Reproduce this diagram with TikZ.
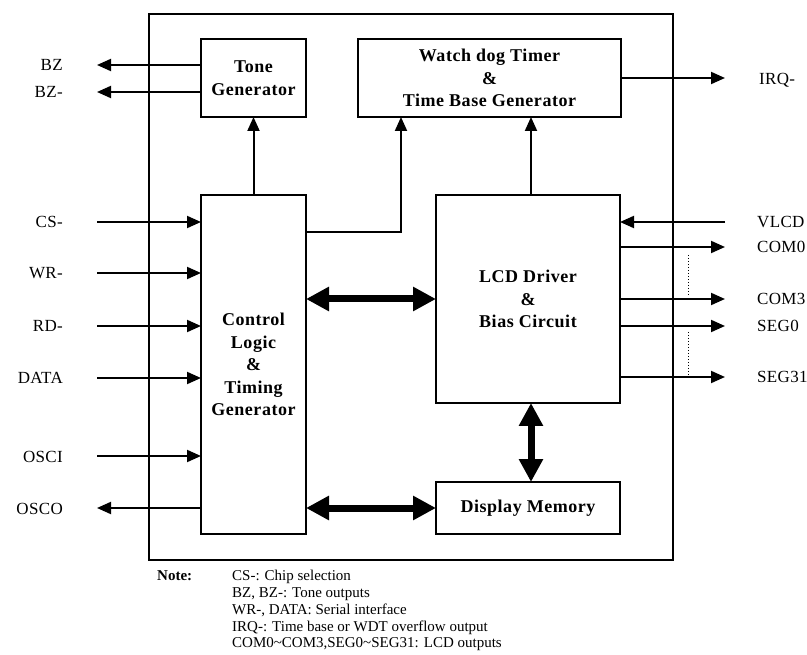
\documentclass[tikz,border=0pt]{standalone}
\usepackage{fontspec}
\setmainfont{Liberation Serif}
\usetikzlibrary{arrows.meta}
\begin{document}
\begin{tikzpicture}[x=1pt,y=-1pt,
 box/.style={draw, line width=2pt, inner sep=0pt, outer sep=0pt, align=center,
   font=\fontsize{18}{22.5}\selectfont\bfseries\addfontfeatures{LetterSpace=3}},
 sig/.style={line width=2pt, -{Triangle[length=14pt,width=12pt]}},
 bus/.style={line width=7pt, {Triangle[length=23pt,width=23pt]}-{Triangle[length=23pt,width=23pt]}},
 lbl/.style={font=\fontsize{17}{20}\selectfont\addfontfeatures{LetterSpace=2}, inner sep=0pt},
 note/.style={font=\fontsize{15}{16.8}\selectfont, inner sep=0pt, align=left},
]
\useasboundingbox (0,0) rectangle (807,655);

% outer chip
\node[draw, line width=2pt, minimum width=524pt, minimum height=546pt, inner sep=0pt, anchor=north west] (chip) at (148,13) {};

% blocks
\node[box, minimum width=105pt, minimum height=78pt] (tone) at (253.5,78) {Tone\\Generator};
\node[box, minimum width=263pt, minimum height=78pt] (wdt) at (489.5,78) {Watch dog Timer\\\&\\Time Base Generator};
\node[box, minimum width=105pt, minimum height=339pt] (ctrl) at (253.5,364.5) {Control\\Logic\\\&\\Timing\\Generator};
\node[box, minimum width=184pt, minimum height=208pt] (lcd) at (528,299) {LCD Driver\\\&\\Bias Circuit};
\node[box, minimum width=184pt, minimum height=52pt] (mem) at (528,508) {Display Memory};

% coordinates for free ends
\coordinate (bz) at (97,65);
\coordinate (bzn) at (97,92);
\coordinate (cs) at (97,222);
\coordinate (wr) at (97,273);
\coordinate (rd) at (97,326);
\coordinate (data) at (97,378);
\coordinate (osci) at (97,456);
\coordinate (osco) at (97,508);
\coordinate (irq) at (725,78);
\coordinate (vlcd) at (725,222);
\coordinate (com0) at (725,247);
\coordinate (com3) at (725,299);
\coordinate (seg0) at (725,326);
\coordinate (seg31) at (725,377);
\coordinate (wk) at (401,232);
\coordinate (lk) at (531,0);

% left signals
\draw[sig] (tone.west |- bz) -- (bz);
\draw[sig] (tone.west |- bzn) -- (bzn);
\draw[sig] (cs) -- (ctrl.west |- cs);
\draw[sig] (wr) -- (ctrl.west |- wr);
\draw[sig] (rd) -- (ctrl.west |- rd);
\draw[sig] (data) -- (ctrl.west |- data);
\draw[sig] (osci) -- (ctrl.west |- osci);
\draw[sig] (ctrl.west |- osco) -- (osco);

% internal
\draw[sig] (ctrl.north) -- (tone.south);
\draw[sig] (ctrl.east |- wk) -| (wdt.south -| wk);
\draw[sig] (lcd.north -| lk) -- (wdt.south -| lk);
\draw[sig] (wdt.east) -- (irq);
\draw[bus] (ctrl.east |- lcd.west) -- (lcd.west);
\draw[bus] (ctrl.east |- mem.west) -- (mem.west);
\draw[bus] (lcd.south -| lk) -- (mem.north -| lk);

% right signals
\draw[sig] (vlcd) -- (lcd.east |- vlcd);
\draw[sig] (lcd.east |- com0) -- (com0);
\draw[sig] (lcd.east |- com3) -- (com3);
\draw[sig] (lcd.east |- seg0) -- (seg0);
\draw[sig] (lcd.east |- seg31) -- (seg31);
\draw[dotted, line width=1pt] (688,255) -- (688,296);
\draw[dotted, line width=1pt] (688,332) -- (688,375);

% labels
\node[lbl, anchor=base east] (lbz) at (63,71) {BZ};
\node[lbl, anchor=base east] (lbzn) at (63,98) {BZ-};
\node[lbl, anchor=base east] (lcs) at (63,228) {CS-};
\node[lbl, anchor=base east] (lwr) at (63,279) {WR-};
\node[lbl, anchor=base east] (lrd) at (63,332) {RD-};
\node[lbl, anchor=base east] (ldata) at (63,384) {DATA};
\node[lbl, anchor=base east] (losci) at (63,462) {OSCI};
\node[lbl, anchor=base east] (losco) at (63,514) {OSCO};
\node[lbl, anchor=base west] (lirq) at (759,85) {IRQ-};
\node[lbl, anchor=base west] (lvlcd) at (757,228) {VLCD};
\node[lbl, anchor=base west] (lcom0) at (757,253) {COM0};
\node[lbl, anchor=base west] (lcom3) at (757,305) {COM3};
\node[lbl, anchor=base west] (lseg0) at (757,332) {SEG0};
\node[lbl, anchor=base west] (lseg31) at (757,383) {SEG31};

% notes
\node[note, anchor=north west, font=\fontsize{15}{16.8}\selectfont\bfseries] (notehead) at (157,570) {Note:};
\node[note, anchor=north west] (notes) at (232,570) {CS-: Chip selection\\BZ, BZ-: Tone outputs\\WR-, DATA: Serial interface\\IRQ-: Time base or WDT overflow output\\COM0\textasciitilde COM3,SEG0\textasciitilde SEG31: LCD outputs};
\end{tikzpicture}
\end{document}
